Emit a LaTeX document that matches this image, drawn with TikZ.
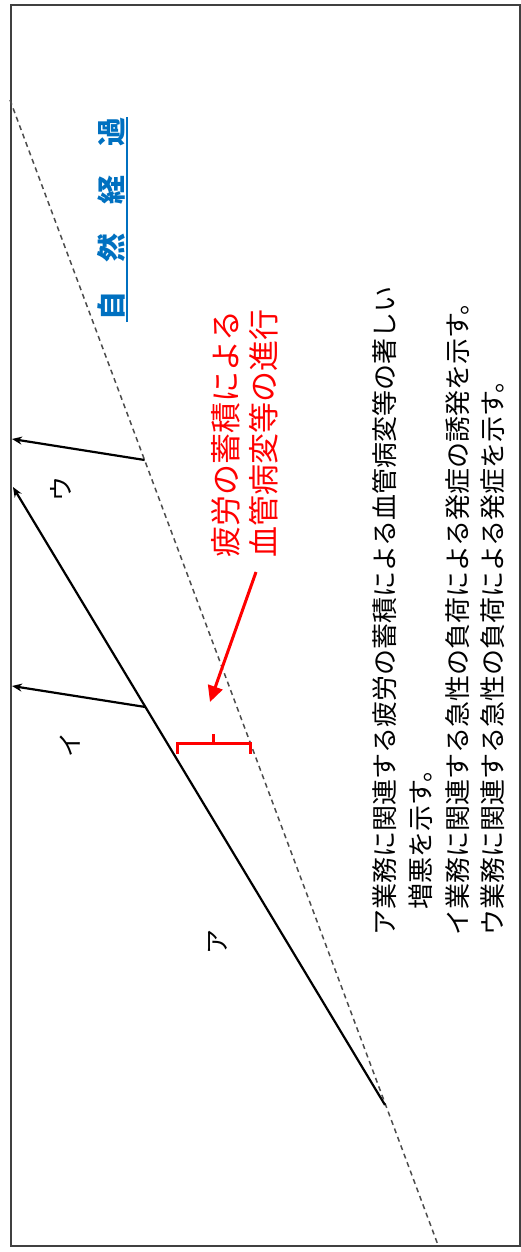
\documentclass[tikz,border=0pt]{standalone}
\usepackage{fontspec}
\setmainfont{Liberation Serif}
\newfontfamily\jp{Noto Sans CJK JP}
\usetikzlibrary{arrows.meta}
\definecolor{natblue}{RGB}{0,112,192}
\begin{document}
\begin{tikzpicture}[x=1pt,y=-1pt,
  frame/.style={draw=black!75,line width=1.5pt},
  natline/.style={draw=black!70,dash pattern=on 5pt off 4pt,line width=1.5pt},
  arr/.style={draw=black,line width=2.2pt,-{Stealth[length=10pt,width=8pt]}},
  redarr/.style={draw=red,line width=3pt,-{Triangle[length=16pt,width=15pt]}},
  bracebox/.style={draw=red,line width=3pt},
  vtext/.style={rotate=90,anchor=west,inner sep=0pt,font=\jp\fontsize{26}{26}\selectfont},
  redtext/.style={rotate=90,anchor=west,inner sep=0pt,text=red,font=\jp\fontsize{31}{31}\selectfont},
  lbl/.style={rotate=90,inner sep=0pt,font=\jp\fontsize{25}{25}\selectfont},
  bluetext/.style={rotate=90,anchor=west,inner sep=0pt,text=natblue,font=\jp\bfseries\fontsize{29}{29}\selectfont}]
\useasboundingbox (0,0) rectangle (521,1252);
\draw[frame] (11,5) rectangle (520,1246);
% natural course (dashed)
\coordinate (n0) at (10,100);
\coordinate (n1) at (438,1245);
\draw[natline] (n0) -- (n1);
% progression line
\coordinate (s) at (385,1105);
\coordinate (aTip) at (13,487);
\coordinate (pI) at (145.4,707);
\coordinate (pU) at (144.6,460);
\coordinate (iTip) at (12,686);
\coordinate (uTip) at (12,439);
\draw[arr] (s) -- (aTip);
\draw[arr] (pI) -- (iTip);
\draw[arr] (pU) -- (uTip);
% labels
\node[lbl] (la) at (218,942) {ア};
\node[lbl] (li) at (70,745) {イ};
\node[lbl] (lu) at (61,489) {ウ};
% natural course title
\node[bluetext] (nat) at (111,321) {自　然　経　過};
\draw[natblue,line width=1.5pt] (127,322) -- (127,117);
% red annotation
\node[redtext] (r1) at (226,558) {疲労の蓄積による};
\node[redtext] (r2) at (264,558) {血管病変等の進行};
\coordinate (ra) at (256,572);
\coordinate (rb) at (210,702);
\draw[redarr] (ra) -- (rb);
\draw[bracebox] (177,754) -- (177,743) -- (250,743) -- (250,754);
\draw[bracebox] (213,743) -- (213,734);
% legend
\node[vtext] (l1) at (385,936) {ア業務に関連する疲労の蓄積による血管病変等の著しい};
\node[vtext] (l2) at (421,910) {増悪を示す。};
\node[vtext] (l3) at (458,936) {イ業務に関連する急性の負荷による発症の誘発を示す。};
\node[vtext] (l4) at (493,936) {ウ業務に関連する急性の負荷による発症を示す。};
\end{tikzpicture}
\end{document}
